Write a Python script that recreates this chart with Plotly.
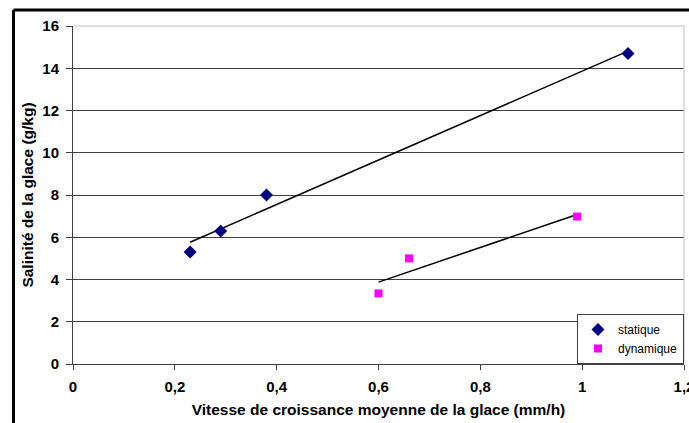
import numpy as np
import plotly.graph_objects as go

# Data
statique_x = [0.23, 0.29, 0.38, 1.09]
statique_y = [5.3, 6.3, 8.0, 14.7]
dynamique_x = [0.60, 0.66, 0.99]
dynamique_y = [3.34, 5.0, 6.98]

x_tickvals = [0, 0.2, 0.4, 0.6, 0.8, 1.0, 1.2]
x_ticktext = ["0", "0,2", "0,4", "0,6", "0,8", "1", "1,2"]
y_tickvals = [0, 2, 4, 6, 8, 10, 12, 14, 16]

def trend(xs, ys):
    a, b = np.polyfit(xs, ys, 1)
    xx = np.array([min(xs), max(xs)])
    return xx, a * xx + b

fig = go.Figure()

tx, ty = trend(statique_x, statique_y)
fig.add_trace(go.Scatter(x=tx, y=ty, mode="lines", line=dict(color="black", width=1.5),
                         showlegend=False, hoverinfo="skip"))
tx2, ty2 = trend(dynamique_x, dynamique_y)
fig.add_trace(go.Scatter(x=tx2, y=ty2, mode="lines", line=dict(color="black", width=1.5),
                         showlegend=False, hoverinfo="skip"))

fig.add_trace(go.Scatter(x=statique_x, y=statique_y, mode="markers", name="statique",
                         marker=dict(symbol="diamond", size=10, color="#000080")))
fig.add_trace(go.Scatter(x=dynamique_x, y=dynamique_y, mode="markers", name="dynamique",
                         marker=dict(symbol="square", size=8, color="#FF00FF")))

FAM = "Liberation Sans, Arial, sans-serif"
tick_font = dict(family=FAM, size=15, color="black", weight="bold")
xtitle_font = dict(family=FAM, size=15.5, color="black", weight="bold")
ytitle_font = dict(family=FAM, size=15.5, color="black", weight="bold")

fig.update_layout(
    width=689, height=423,
    margin=dict(l=73, r=5, t=26, b=59, autoexpand=False),
    paper_bgcolor="white", plot_bgcolor="white",
    font=dict(family=FAM, color="black"),
    xaxis=dict(
        range=[0, 1.2], tickvals=x_tickvals, ticktext=x_ticktext,
        showgrid=False, zeroline=False, showline=True, linecolor="#404040", linewidth=1,
        ticks="outside", ticklen=5, tickcolor="#404040", tickfont=tick_font,
        ticklabelstandoff=4, automargin=False, ticklabeloverflow="allow",
        title=dict(text="Vitesse de croissance moyenne de la glace (mm/h)", font=xtitle_font, standoff=10),
    ),
    yaxis=dict(
        range=[0, 16], tickvals=y_tickvals,
        showgrid=True, gridcolor="#404040", gridwidth=1,
        zeroline=False, showline=True, linecolor="#404040", linewidth=1,
        ticks="outside", ticklen=6, tickcolor="#404040", tickfont=tick_font,
        ticklabelstandoff=4, automargin=False,
        title=dict(text="Salinité de la glace (g/kg)", font=ytitle_font, standoff=4),
    ),
    legend=dict(
        x=1, y=0, xanchor="right", yanchor="bottom",
        bgcolor="white", bordercolor="#404040", borderwidth=1,
        font=dict(family=FAM, size=12, color="black"),
        itemwidth=30, tracegroupgap=0,
    ),
    shapes=[
        dict(type="line", xref="paper", yref="paper", x0=0, x1=1, y0=1, y1=1,
             line=dict(color="#c0c0c0", width=1), layer="above"),
        dict(type="line", xref="paper", yref="paper", x0=1, x1=1, y0=0, y1=1,
             line=dict(color="#c0c0c0", width=1), layer="above"),
        dict(type="line", xref="paper", yref="paper", x0=-0.0974, x1=1.01, y0=1.047, y1=1.047,
             line=dict(color="black", width=3)),
        dict(type="line", xref="paper", yref="paper", x0=-0.0974, x1=-0.0974, y0=-0.2, y1=1.047,
             line=dict(color="black", width=3)),
    ],
)

fig.write_html("out.html", config={"displayModeBar": False})

# remove default page margin so the figure sits at the window's top-left corner
with open("out.html", "r", encoding="utf-8") as f:
    html = f.read()
html = html.replace("<head>", "<head><style>html,body{margin:0;padding:0;overflow:hidden;}</style>", 1)
with open("out.html", "w", encoding="utf-8") as f:
    f.write(html)
